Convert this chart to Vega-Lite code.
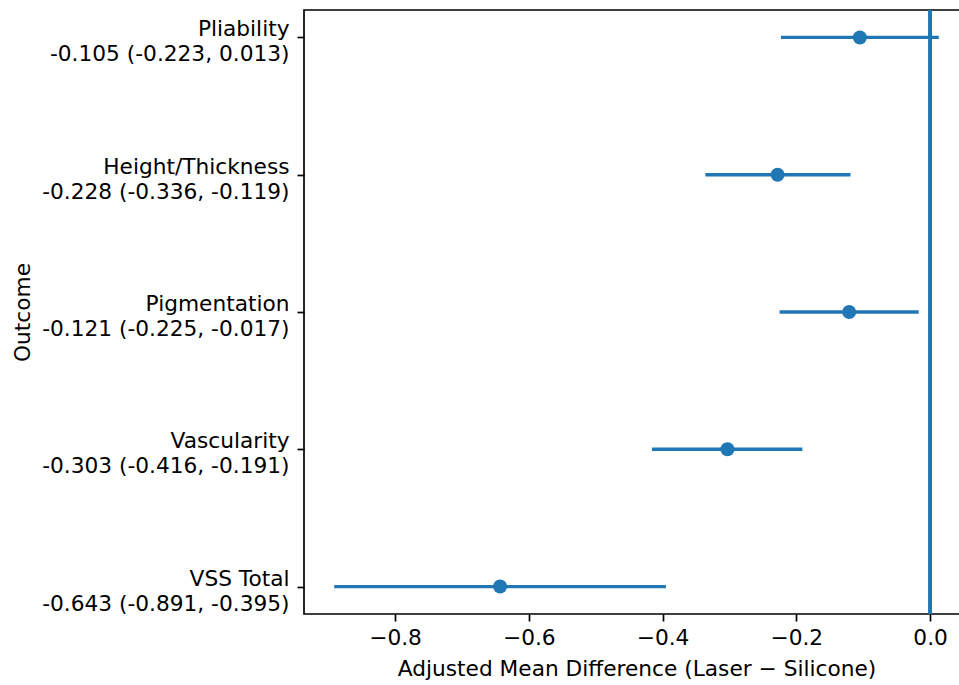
{
  "$schema": "https://vega.github.io/schema/vega-lite/v6.json",
  "autosize": {"type": "none"},
  "width": 665,
  "height": 604,
  "padding": {"left": 304, "top": 10, "right": 0, "bottom": 71},
  "background": "white",
  "config": {
    "view": {"stroke": "black", "strokeWidth": 1.7},
    "font": "DejaVu Sans",
    "axis": {
      "grid": false,
      "domain": false,
      "labelFont": "DejaVu Sans",
      "titleFont": "DejaVu Sans",
      "labelFontSize": 21.7,
      "titleFontSize": 21.7,
      "labelColor": "black",
      "titleColor": "black",
      "titleFontWeight": "normal",
      "tickColor": "black",
      "tickSize": 7,
      "tickWidth": 1.7,
      "labelLimit": 0
    }
  },
  "data": {
    "values": [
      {"label": "Pliability|-0.105 (-0.223, 0.013)", "est": -0.105, "lo": -0.223, "hi": 0.013},
      {"label": "Height/Thickness|-0.228 (-0.336, -0.119)", "est": -0.228, "lo": -0.336, "hi": -0.119},
      {"label": "Pigmentation|-0.121 (-0.225, -0.017)", "est": -0.121, "lo": -0.225, "hi": -0.017},
      {"label": "Vascularity|-0.303 (-0.416, -0.191)", "est": -0.303, "lo": -0.416, "hi": -0.191},
      {"label": "VSS Total|-0.643 (-0.891, -0.395)", "est": -0.643, "lo": -0.891, "hi": -0.395}
    ]
  },
  "encoding": {
    "y": {
      "field": "label",
      "type": "nominal",
      "sort": [
        "Pliability|-0.105 (-0.223, 0.013)",
        "Height/Thickness|-0.228 (-0.336, -0.119)",
        "Pigmentation|-0.121 (-0.225, -0.017)",
        "Vascularity|-0.303 (-0.416, -0.191)",
        "VSS Total|-0.643 (-0.891, -0.395)"
      ],
      "scale": {"type": "point", "padding": 0.2},
      "axis": {
        "title": "Outcome",
        "labelExpr": "split(datum.value, '|')",
        "labelLineHeight": 25,
        "labelPadding": 8,
        "labelAlign": "right",
        "labelBaseline": "middle",
        "labelOffset": -8.5,
        "titleX": -282,
        "titleY": 302,
        "titleAngle": 270,
        "titleAlign": "center",
        "titleBaseline": "middle"
      }
    }
  },
  "layer": [
    {
      "mark": {"type": "rule", "color": "#1f77b4", "strokeWidth": 3},
      "encoding": {
        "x": {"datum": 0, "type": "quantitative"},
        "y": null
      }
    },
    {
      "mark": {"type": "rule", "color": "#1f77b4", "strokeWidth": 3.3},
      "encoding": {
        "x": {
          "field": "lo",
          "type": "quantitative",
          "scale": {"domain": [-0.9362, 0.0582], "nice": false, "zero": false},
          "axis": {
            "title": "Adjusted Mean Difference (Laser \u2212 Silicone)",
            "values": [-0.8, -0.6, -0.4, -0.2, 0.0],
            "format": ".1f",
            "labelPadding": 6,
            "titlePadding": 10
          }
        },
        "x2": {"field": "hi"}
      }
    },
    {
      "mark": {"type": "circle", "color": "#1f77b4", "opacity": 1, "size": 195},
      "encoding": {
        "x": {"field": "est", "type": "quantitative"}
      }
    }
  ]
}
